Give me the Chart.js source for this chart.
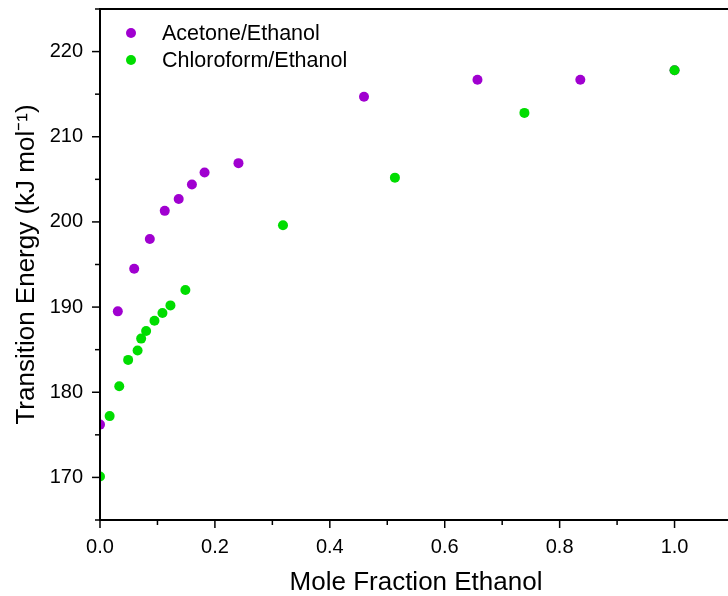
<!DOCTYPE html>
<html>
<head>
<meta charset="utf-8">
<script src="https://cdn.jsdelivr.net/npm/chart.js@4"></script>
<style>
  html, body { margin: 0; padding: 0; background: #fff; overflow: hidden; }
  canvas { display: block; }
</style>
</head>
<body>
<canvas id="energyChart" width="737" height="596"></canvas>
<script>
// values
const acetoneX = [0, 0.031, 0.0595, 0.0867, 0.1127, 0.137, 0.160, 0.182, 0.241, 0.4595, 0.657, 0.836, 1.0];
const acetoneY = [176.2, 189.5, 194.5, 198.0, 201.3, 202.7, 204.4, 205.8, 206.9, 214.7, 216.7, 216.7, 217.8];

const chloroX = [0, 0.0168, 0.0335, 0.049, 0.0654, 0.0716, 0.0803, 0.0948, 0.1087, 0.1226, 0.1486, 0.3185, 0.5133, 0.7387, 1.0];
const chloroY = [170.1, 177.2, 180.7, 183.8, 184.9, 186.3, 187.2, 188.4, 189.3, 190.2, 192.0, 199.6, 205.2, 212.8, 217.8];

const seriesNames = ['Acetone/Ethanol', 'Chloroform/Ethanol'];
const seriesColors = ['#a000d0', '#00dd00'];

const xTickLabels = ['0.0', '0.2', '0.4', '0.6', '0.8', '1.0'];
const yTickLabels = ['170', '180', '190', '200', '210', '220'];

function toPoints(xs, ys) {
    return xs.map(function(x, i) { return { x: x, y: ys[i] }; });
}

// frame, ticks and legend in the Origin style
const framePlugin = {
    id: 'frame',
    afterDatasetsDraw(chart) {
        const ctx = chart.ctx;
        const area = chart.chartArea;
        const xs = chart.scales.x;
        const ys = chart.scales.y;
        ctx.save();
        ctx.strokeStyle = '#000';

        // ticks
        ctx.lineWidth = 1.5;
        xs.ticks.forEach(function(t) {
            const px = xs.getPixelForValue(t.value);
            const major = Math.round(t.value * 10) % 2 === 0;
            ctx.beginPath();
            ctx.moveTo(px, area.bottom);
            ctx.lineTo(px, area.bottom + (major ? 8 : 5));
            ctx.stroke();
        });
        ys.ticks.forEach(function(t) {
            const py = ys.getPixelForValue(t.value);
            const major = Math.round(t.value) % 10 === 0;
            ctx.beginPath();
            ctx.moveTo(area.left, py);
            ctx.lineTo(area.left - (major ? 8 : 5), py);
            ctx.stroke();
        });

        // axes box
        ctx.lineWidth = 2;
        ctx.beginPath();
        ctx.moveTo(area.right, area.top);
        ctx.lineTo(area.left, area.top);
        ctx.lineTo(area.left, area.bottom);
        ctx.lineTo(area.right, area.bottom);
        ctx.stroke();

        // legend
        ctx.font = '21.5px "Liberation Sans", Arial, sans-serif';
        ctx.textBaseline = 'middle';
        chart.data.datasets.forEach(function(ds, i) {
            const cy = area.top + 24 + i * 27;
            ctx.beginPath();
            ctx.fillStyle = ds.backgroundColor;
            ctx.arc(area.left + 31, cy, 5, 0, Math.PI * 2);
            ctx.fill();
            ctx.fillStyle = '#000';
            ctx.fillText(ds.label, area.left + 62, cy + 1);
        });
        ctx.restore();
    }
};

const ctx = document.getElementById('energyChart').getContext('2d');

const energyChart = new Chart(ctx, {
    type: 'scatter',
    data: {
        datasets: [{
            label: seriesNames[0],
            data: toPoints(acetoneX, acetoneY),
            backgroundColor: seriesColors[0],
            borderWidth: 0,
            pointRadius: 5,
            order: 1,
            clip: 0
        }, {
            label: seriesNames[1],
            data: toPoints(chloroX, chloroY),
            backgroundColor: seriesColors[1],
            borderWidth: 0,
            pointRadius: 5,
            order: 0,
            clip: 0
        }]
    },
    options: {
        responsive: false,
        animation: false,
        layout: { padding: { top: 9, right: 2, left: 0, bottom: 0 } },
        plugins: {
            legend: { display: false },
            tooltip: { enabled: false }
        },
        scales: {
            x: {
                type: 'linear',
                min: 0,
                max: 1.1,
                afterFit: function(scale) {
                    scale.height = 76;
                    scale.paddingLeft = 0;
                    scale.paddingRight = 0;
                },
                border: { display: false },
                grid: { drawOnChartArea: false, color: 'rgba(0,0,0,0)', tickLength: 8 },
                ticks: {
                    stepSize: 0.1,
                    padding: 7,
                    maxRotation: 0,
                    autoSkip: false,
                    color: '#000',
                    font: { family: '"Liberation Sans", Arial, sans-serif', size: 20 },
                    callback: function(v) {
                        const k = Math.round(v * 10);
                        return k % 2 === 0 ? (xTickLabels[k / 2] || '') : '';
                    }
                },
                title: {
                    display: true,
                    text: 'Mole Fraction Ethanol',
                    color: '#000',
                    font: { family: '"Liberation Sans", Arial, sans-serif', size: 26, lineHeight: 1 },
                    padding: { top: 0, bottom: 0 }
                }
            },
            y: {
                min: 165,
                max: 225,
                afterFit: function(scale) {
                    scale.width = 100;
                    scale.paddingTop = 0;
                    scale.paddingBottom = 0;
                },
                border: { display: false },
                grid: { drawOnChartArea: false, color: 'rgba(0,0,0,0)', tickLength: 8 },
                ticks: {
                    stepSize: 5,
                    padding: 9,
                    autoSkip: false,
                    color: '#000',
                    font: { family: '"Liberation Sans", Arial, sans-serif', size: 20 },
                    callback: function(v) {
                        const k = Math.round(v);
                        return k % 10 === 0 ? (yTickLabels[(k - 170) / 10] || '') : '';
                    }
                },
                title: {
                    display: true,
                    text: 'Transition Energy (kJ mol\u207B\u00B9)',
                    color: '#000',
                    font: { family: '"Liberation Sans", Arial, sans-serif', size: 26, lineHeight: 1 },
                    padding: { top: 14, bottom: 0 }
                }
            }
        }
    },
    plugins: [framePlugin]
});
</script>
</body>
</html>
